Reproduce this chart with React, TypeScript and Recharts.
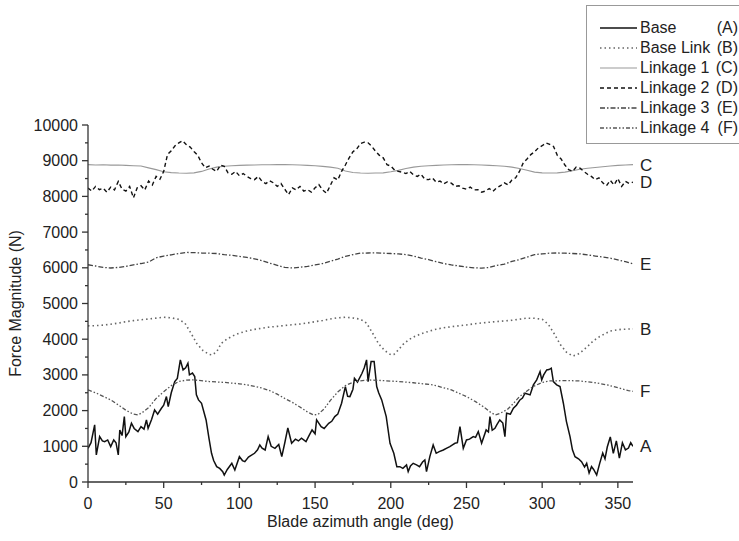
import React from 'react';
import { LineChart, Line, XAxis, YAxis } from 'recharts';

type Pt = [number, number];

const xTicks = [0, 25, 50, 75, 100, 125, 150, 175, 200, 225, 250, 275, 300, 325, 350];
const yTicks = [0, 500, 1000, 1500, 2000, 2500, 3000, 3500, 4000, 4500, 5000, 5500, 6000, 6500, 7000, 7500, 8000, 8500, 9000, 9500, 10000];

const legendNames = ['Base', 'Base Link', 'Linkage 1', 'Linkage 2', 'Linkage 3', 'Linkage 4'];
const legendLetters = ['(A)', '(B)', '(C)', '(D)', '(E)', '(F)'];
const endLetters = ['A', 'B', 'C', 'D', 'E', 'F'];

// Base (A)
const baseA: Pt[] = [
  [0, 944], [2, 1100], [4.4, 1600], [5.5, 757], [7.7, 1271], [9.5, 1150], [11, 1131], [13, 1178], [15, 991], [17, 1178],
  [18.5, 1100], [20, 757], [21, 1458], [22.5, 1300], [24, 1832], [25, 1271], [27, 1400], [28.7, 1645], [30.5, 1500], [33, 1411],
  [35, 1550], [37, 1480], [38.6, 1738], [39.7, 1505], [42, 1750], [44, 2019], [46, 1900], [48.5, 2066], [50, 2150], [51.8, 2393],
  [53, 2112], [55, 2500], [57.3, 2813], [59, 2900], [61, 3421], [62.8, 3140], [64.5, 3200], [66, 3327], [67, 3000], [69, 3050],
  [70.5, 2953], [71.6, 2440], [73, 2300], [75, 2206], [78, 1738], [80, 1200], [81.6, 804], [83, 600], [85, 430], [87, 380],
  [89, 290], [90, 196], [92, 350], [95, 523], [97, 336], [100, 710], [102, 600], [103.6, 570], [106, 700], [108, 750],
  [110, 804], [112, 900], [113.5, 1037], [115, 950], [117, 897], [119, 1271], [121, 1000], [123.5, 944], [126, 1050], [128, 710],
  [130, 1100], [132, 1514], [134.5, 1084], [137, 1200], [139, 1150], [141, 1225], [144, 1131], [146, 1300], [148, 1458], [150, 1350],
  [151, 1738], [154, 1551], [156, 1500], [159, 1645], [161, 1700], [163, 1832], [165, 1900], [167.5, 2206], [170, 2673], [171.5, 2400],
  [173, 2393], [175, 2600], [176, 2907], [178, 2800], [181, 3047], [182.5, 3200], [184, 3421], [185, 2813], [187, 3374], [189, 3374],
  [190.7, 2673], [192, 2500], [194, 2299], [197, 1832], [199.5, 1084], [202, 804], [204, 430], [206, 430], [208, 383], [210.4, 477],
  [211.5, 290], [213, 450], [214.8, 523], [217, 480], [219, 430], [221, 560], [222.5, 617], [223.6, 290], [225.8, 710], [228, 1037],
  [230, 804], [232, 850], [234.7, 897], [237, 950], [239, 991], [241, 1050], [242.4, 1084], [244, 1100], [245.7, 1551], [247.9, 944],
  [250, 1178], [252, 1200], [254.5, 1271], [256, 1250], [257.8, 1411], [260, 1084], [263, 1458], [264.5, 1400], [265.5, 1832], [267, 1450],
  [268.8, 1505], [270, 1600], [272, 1738], [274, 1650], [275.4, 1271], [276.5, 1925], [279, 1900], [281, 2066], [283, 2150], [285.3, 2299],
  [287, 2350], [288.7, 2486], [292, 2440], [294.2, 2720], [296.4, 2860], [298.6, 3094], [299.7, 2860], [301, 3000], [303, 3140], [304.5, 3150],
  [306, 3187], [307.4, 2813], [309.6, 2720], [311.8, 2673], [314, 2206], [316, 1700], [318.4, 1271], [320, 900], [321.7, 710], [324, 650],
  [326, 570], [328, 420], [329.4, 523], [331, 250], [332.6, 430], [334, 350], [336, 196], [338, 523], [340, 813], [341.5, 650],
  [343, 980], [345, 1262], [347, 800], [349, 1150], [351, 670], [353, 1100], [355, 900], [357, 950], [358.5, 1100], [360, 1000],
];

// Base Link (B)
const baseLinkB: Pt[] = [
  [0, 4374], [5, 4380], [10, 4395], [15, 4420], [20, 4450], [25, 4490], [30, 4520], [35, 4545], [40, 4565], [45, 4590],
  [50, 4615], [55, 4600], [60, 4555], [64, 4450], [68, 4170], [72, 3870], [76, 3680], [80, 3575], [82, 3560], [85, 3650],
  [88, 3880], [92, 4010], [96, 4100], [100, 4170], [105, 4230], [110, 4275], [115, 4310], [120, 4340], [125, 4360], [130, 4385],
  [135, 4405], [140, 4425], [145, 4455], [150, 4490], [155, 4525], [160, 4565], [165, 4600], [170, 4615], [175, 4595], [180, 4560],
  [184, 4450], [188, 4170], [192, 3870], [196, 3680], [200, 3565], [202, 3570], [205, 3700], [208, 3850], [212, 3990], [216, 4080],
  [220, 4150], [225, 4220], [230, 4280], [235, 4320], [240, 4350], [245, 4375], [250, 4400], [255, 4430], [260, 4455], [265, 4475],
  [270, 4495], [275, 4510], [280, 4530], [285, 4560], [290, 4590], [295, 4585], [300, 4560], [304, 4420], [308, 4150], [312, 3850],
  [316, 3640], [320, 3530], [323, 3560], [326, 3650], [330, 3800], [334, 3960], [338, 4075], [345, 4230], [352, 4275], [360, 4290],
];

// Linkage 1 (C)
const linkage1C: Pt[] = [
  [0, 8890], [5, 8880], [10, 8885], [15, 8875], [20, 8880], [25, 8870], [30, 8860], [35, 8850], [40, 8800], [45, 8750],
  [50, 8690], [55, 8665], [60, 8655], [65, 8650], [70, 8660], [75, 8700], [80, 8770], [85, 8820], [90, 8845], [95, 8860],
  [100, 8870], [105, 8875], [110, 8880], [115, 8885], [120, 8885], [125, 8890], [130, 8890], [135, 8885], [140, 8880], [145, 8870],
  [150, 8860], [155, 8840], [160, 8820], [165, 8790], [170, 8710], [175, 8670], [180, 8655], [185, 8650], [190, 8655], [195, 8660],
  [200, 8690], [205, 8730], [210, 8780], [215, 8820], [220, 8845], [225, 8860], [230, 8870], [235, 8880], [240, 8885], [245, 8890],
  [250, 8890], [255, 8885], [260, 8880], [265, 8870], [270, 8860], [275, 8845], [280, 8820], [285, 8780], [290, 8730], [295, 8680],
  [300, 8660], [305, 8655], [310, 8660], [315, 8680], [320, 8720], [325, 8760], [330, 8790], [335, 8810], [340, 8830], [345, 8850],
  [350, 8870], [355, 8880], [360, 8890],
];

// Linkage 2 (D)
const linkage2D: Pt[] = [
  [0, 8235], [2.5, 8150], [5, 8280], [7.5, 8190], [10, 8230], [12.5, 8120], [15, 8260], [17.5, 8180], [20, 8420], [22.5, 8200],
  [25, 8150], [27.5, 8280], [30, 7960], [32.5, 8240], [35, 8300], [37.5, 8180], [40, 8430], [42.5, 8320], [45, 8560], [47.5, 8480],
  [50, 8700], [52.5, 9170], [55, 9280], [57.5, 9420], [60, 9500], [62.5, 9560], [65, 9450], [67.5, 9380], [70, 9260], [72.5, 9150],
  [75, 8940], [77.5, 8800], [80, 8850], [82.5, 8760], [85, 8700], [87.5, 8880], [90, 8840], [92.5, 8660], [95, 8620], [97.5, 8700],
  [100, 8580], [102.5, 8640], [105, 8560], [107.5, 8500], [110, 8470], [112.5, 8560], [115, 8420], [117.5, 8360], [120, 8440], [122.5, 8380],
  [125, 8280], [127.5, 8360], [130, 8200], [132.5, 8050], [135, 8240], [137.5, 8180], [140, 8280], [142.5, 8150], [145, 8190], [147.5, 8120],
  [150, 8240], [152.5, 8330], [155, 8180], [157.5, 8090], [160, 8300], [162.5, 8520], [165, 8460], [167.5, 8700], [170, 8880], [172.5, 9080],
  [175, 9250], [177.5, 9330], [180, 9480], [182.5, 9520], [185, 9500], [187.5, 9400], [190, 9260], [192.5, 9150], [195, 9080], [197.5, 8890],
  [200, 8850], [202.5, 8740], [205, 8700], [207.5, 8680], [210, 8640], [212.5, 8700], [215, 8600], [217.5, 8560], [220, 8620], [222.5, 8480],
  [225, 8470], [227.5, 8520], [230, 8400], [232.5, 8430], [235, 8350], [237.5, 8410], [240, 8370], [242.5, 8280], [245, 8300], [247.5, 8230],
  [250, 8200], [252.5, 8260], [255, 8180], [257.5, 8190], [260, 8120], [262.5, 8150], [265, 8220], [267.5, 8140], [270, 8240], [272.5, 8300],
  [275, 8380], [277.5, 8320], [280, 8460], [282.5, 8520], [285, 8700], [287.5, 8940], [290, 9050], [292.5, 9170], [295, 9250], [297.5, 9360],
  [300, 9420], [302.5, 9500], [305, 9460], [307.5, 9400], [310, 9150], [312.5, 9050], [315, 8880], [317.5, 8750], [320, 8700], [322.5, 8820],
  [325, 8790], [327.5, 8700], [330, 8620], [332.5, 8560], [335, 8470], [337.5, 8520], [340, 8380], [342.5, 8300], [345, 8450], [347.5, 8320],
  [350, 8500], [352.5, 8280], [355, 8420], [357.5, 8360], [360, 8400],
];

// Linkage 3 (E)
const linkage3E: Pt[] = [
  [0, 6085], [5, 6050], [10, 6010], [15, 5995], [20, 6010], [25, 6040], [30, 6085], [35, 6120], [40, 6160], [45, 6280],
  [50, 6330], [55, 6365], [60, 6400], [65, 6430], [70, 6425], [75, 6415], [80, 6410], [85, 6400], [90, 6370], [95, 6350],
  [100, 6320], [105, 6290], [110, 6250], [115, 6200], [120, 6130], [125, 6070], [130, 6010], [135, 5995], [140, 6015], [145, 6040],
  [150, 6080], [155, 6120], [160, 6180], [165, 6245], [170, 6320], [175, 6370], [180, 6410], [185, 6415], [190, 6420], [195, 6410],
  [200, 6400], [205, 6390], [210, 6370], [215, 6330], [220, 6270], [225, 6230], [230, 6170], [235, 6120], [240, 6080], [245, 6050],
  [250, 6020], [255, 6000], [260, 5990], [265, 6010], [270, 6070], [275, 6100], [280, 6180], [285, 6230], [290, 6300], [295, 6370],
  [300, 6390], [305, 6410], [310, 6415], [315, 6410], [320, 6400], [325, 6390], [330, 6360], [335, 6330], [340, 6300], [345, 6270],
  [350, 6220], [355, 6170], [360, 6110],
];

// Linkage 4 (F)
const linkage4F: Pt[] = [
  [0, 2579], [5, 2500], [10, 2400], [15, 2300], [20, 2160], [25, 2010], [30, 1900], [33, 1879], [36, 1950], [40, 2080],
  [45, 2340], [50, 2530], [55, 2700], [60, 2815], [65, 2855], [70, 2860], [80, 2815], [90, 2790], [100, 2750], [105, 2720],
  [110, 2680], [115, 2630], [120, 2560], [125, 2460], [130, 2340], [135, 2230], [140, 2100], [145, 1960], [149, 1880], [152, 1895],
  [156, 2050], [160, 2280], [165, 2520], [170, 2700], [176, 2813], [185, 2860], [195, 2840], [205, 2815], [215, 2780], [228, 2720],
  [240, 2580], [250, 2393], [256, 2250], [261, 2112], [266, 1950], [269, 1879], [272, 1920], [277, 2030], [281, 2200], [285, 2393],
  [290, 2550], [294, 2673], [300, 2790], [305, 2830], [316, 2842], [325, 2830], [335, 2780], [343, 2720], [350, 2640], [357, 2560],
  [360, 2540],
];

const toData = (pts: Pt[]) => pts.map(([x, y]) => ({ x, y }));

const FONT = '"Liberation Sans", Arial, Helvetica, sans-serif';
const AXIS = '#333';

const XTick = (props: any) => {
  const { x, y, payload } = props;
  const major = payload.value % 50 === 0;
  return (
    <g>
      <line x1={x} x2={x} y1={y} y2={y + (major ? 6 : 3)} stroke={AXIS} strokeWidth={1.3} />
      {major && (
        <text x={x} y={y + 27} textAnchor="middle" fontSize={16} fill="#222" fontFamily={FONT}>
          {payload.value}
        </text>
      )}
    </g>
  );
};

const YTick = (props: any) => {
  const { x, y, payload } = props;
  const major = payload.value % 1000 === 0;
  return (
    <g>
      <line x1={x} x2={x - (major ? 6 : 3)} y1={y} y2={y} stroke={AXIS} strokeWidth={1.3} />
      {major && (
        <text x={x - 10} y={y + 5.5} textAnchor="end" fontSize={16} fill="#222" fontFamily={FONT}>
          {payload.value}
        </text>
      )}
    </g>
  );
};

const endLabel = (letter: string, count: number) => (p: any) => {
  if (p.index !== count - 1) return null;
  return (
    <text key={letter} x={p.x + 7} y={p.y} dy="0.36em" fontSize={17} fill="#222" fontFamily={FONT}>
      {letter}
    </text>
  );
};

const seriesStyles = [
  { stroke: '#111', width: 1.5, dash: undefined as string | undefined },
  { stroke: '#666', width: 1.6, dash: '1.5 3' },
  { stroke: '#999', width: 1.1, dash: undefined },
  { stroke: '#111', width: 1.4, dash: '4 3' },
  { stroke: '#444', width: 1.3, dash: '5 2 1.5 2' },
  { stroke: '#555', width: 1.3, dash: '4 2 1.5 2 1.5 2' },
];

const seriesData = [baseA, baseLinkB, linkage1C, linkage2D, linkage3E, linkage4F];

const Legend = () => (
  <div
    style={{
      position: 'absolute',
      left: 586,
      top: 5,
      width: 153,
      height: 139,
      borderTop: '1px solid #999',
      borderLeft: '1px solid #999',
      borderBottom: '1px solid #999',
      background: '#fff',
      fontFamily: FONT,
      fontSize: 16,
      color: '#222',
      boxSizing: 'border-box',
      paddingTop: 12,
    }}
  >
    {legendNames.map((name, i) => (
      <div key={name} style={{ height: 20, display: 'flex', alignItems: 'center', position: 'relative' }}>
        <svg width={37} height={20} style={{ marginLeft: 13, flex: 'none' }}>
          <line
            x1={0}
            x2={37}
            y1={10}
            y2={10}
            stroke={seriesStyles[i].stroke}
            strokeWidth={seriesStyles[i].width}
            strokeDasharray={seriesStyles[i].dash}
          />
        </svg>
        <span style={{ marginLeft: 3, whiteSpace: 'nowrap' }}>{name}</span>
        <span style={{ position: 'absolute', right: 1, whiteSpace: 'nowrap' }}>{legendLetters[i]}</span>
      </div>
    ))}
  </div>
);

export default function App() {
  return (
    <div style={{ position: 'absolute', left: 0, top: 0, width: 739, height: 541, background: '#fff' }}>
      <LineChart
        width={739}
        height={541}
        margin={{ top: 125, right: 106, bottom: 0, left: 0 }}
        style={{ fontFamily: FONT }}
      >
        <XAxis
          dataKey="x"
          type="number"
          domain={[0, 360]}
          ticks={xTicks}
          interval={0}
          allowDataOverflow
          height={59}
          tickSize={0}
          tickMargin={0}
          tickLine={false}
          tick={<XTick />}
          axisLine={{ stroke: AXIS, strokeWidth: 1.3 }}
          label={{
            content: (p: any) => {
              const vb = p.viewBox;
              return (
                <text x={vb.x + vb.width / 2} y={527} textAnchor="middle" fontSize={16} fill="#222" fontFamily={FONT}>
                  Blade azimuth angle (deg)
                </text>
              );
            },
          }}
        />
        <YAxis
          type="number"
          domain={[0, 10000]}
          ticks={yTicks}
          interval={0}
          allowDataOverflow
          width={88}
          tickSize={0}
          tickMargin={0}
          tickLine={false}
          tick={<YTick />}
          axisLine={{ stroke: AXIS, strokeWidth: 1.3 }}
          label={{
            content: (p: any) => {
              const vb = p.viewBox;
              const cy = vb.y + vb.height / 2;
              return (
                <text
                  x={21}
                  y={cy}
                  transform={`rotate(-90, 21, ${cy})`}
                  textAnchor="middle"
                  fontSize={16}
                  fill="#222"
                  fontFamily={FONT}
                >
                  Force Magnitude (N)
                </text>
              );
            },
          }}
        />
        {seriesData.map((pts, i) => (
          <Line
            key={endLetters[i]}
            data={toData(pts)}
            dataKey="y"
            type="linear"
            dot={false}
            activeDot={false}
            isAnimationActive={false}
            stroke={seriesStyles[i].stroke}
            strokeWidth={seriesStyles[i].width}
            strokeDasharray={seriesStyles[i].dash}
            label={endLabel(endLetters[i], pts.length)}
          />
        ))}
      </LineChart>
      <Legend />
    </div>
  );
}
